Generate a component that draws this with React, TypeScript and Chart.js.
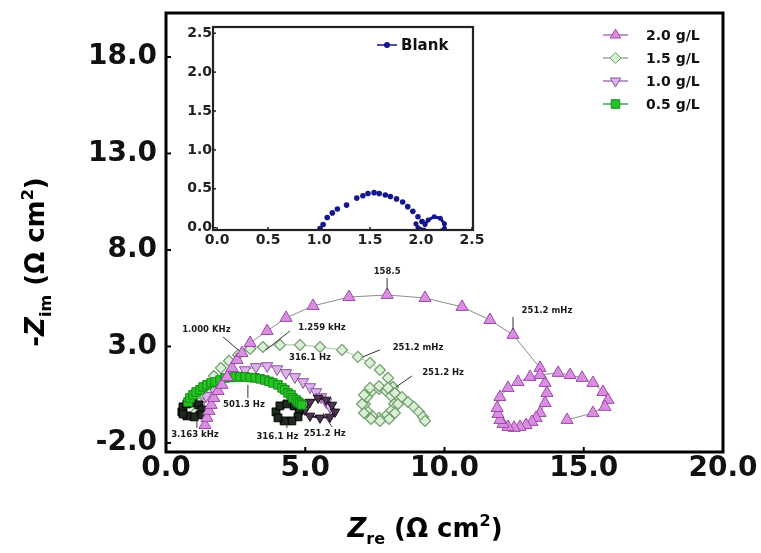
import React, { useEffect, useRef } from 'react';
import { Chart, registerables } from 'chart.js';
import { drawPoint } from 'chart.js/helpers';

Chart.register(...registerables);

// ---------- ticks ----------
const mainXTicks = [0, 5, 10, 15, 20];
const mainYTicks = [-2, 3, 8, 13, 18];
const insetXTicks = [0, 0.5, 1.0, 1.5, 2.0, 2.5];
const insetYTicks = [0, 0.5, 1.0, 1.5, 2.0, 2.5];

// ---------- series ----------
const seriesLabels = ['2.0 g/L', '1.5 g/L', '1.0 g/L', '0.5 g/L'];
const insetLabel = 'Blank';

// 2.0 g/L (triangles)
const zre20 = [1.40, 1.47, 1.54, 1.62, 1.72, 1.87, 2.01, 2.19, 2.37, 2.55, 2.73, 3.02, 3.63, 4.31, 5.28, 6.57, 7.94, 9.30, 10.63, 11.63, 12.46, 13.43,
  13.61, 13.68, 13.61, 13.43, 13.29, 13.14, 12.93, 12.71, 12.50, 12.28, 12.10, 11.99, 11.92, 11.89, 11.99, 12.28, 12.64, 13.07, 13.43,
  14.08, 14.51, 14.94, 15.33, 15.69, 15.87, 15.76, 15.33, 14.40];
const zim20 = [-1.07, -0.70, -0.34, -0.03, 0.33, 0.69, 1.01, 1.42, 1.89, 2.30, 2.66, 3.18, 3.80, 4.48, 5.10, 5.56, 5.67, 5.51, 5.05, 4.37, 3.60, 1.89,
  1.11, 0.59, 0.07, -0.45, -0.70, -0.91, -1.07, -1.17, -1.22, -1.17, -1.02, -0.81, -0.50, -0.19, 0.38, 0.85, 1.16, 1.42, 1.52,
  1.63, 1.52, 1.37, 1.11, 0.64, 0.23, -0.13, -0.45, -0.81];

// 1.5 g/L (diamonds)
const zre15 = [1.08, 1.18, 1.33, 1.51, 1.72, 1.97, 2.26, 2.59, 3.02, 3.48, 4.09, 4.81, 5.53, 6.32, 6.89, 7.32, 7.68, 7.97, 8.15,
  8.19, 8.08, 7.90, 7.65, 7.40, 7.22, 7.14, 7.22, 7.40, 7.65, 7.90, 8.08,
  8.33, 8.22, 8.01, 7.68, 7.36, 7.11, 7.04, 7.11, 7.32, 7.65, 7.97, 8.22,
  8.47, 8.69, 8.90, 9.08, 9.23, 9.30];
const zim15 = [-0.39, 0.07, 0.54, 1.01, 1.47, 1.89, 2.25, 2.56, 2.87, 2.97, 3.08, 3.08, 2.97, 2.82, 2.46, 2.15, 1.78, 1.37, 0.90,
  0.02, -0.34, -0.60, -0.70, -0.60, -0.34, 0.02, 0.38, 0.69, 0.80, 0.69, 0.44,
  0.02, -0.45, -0.76, -0.86, -0.76, -0.45, 0.02, 0.49, 0.85, 0.95, 0.85, 0.59,
  0.38, 0.12, -0.13, -0.39, -0.65, -0.86];

// 1.0 g/L (inverted triangles)
const zre10 = [1.22, 1.44, 1.69, 2.01, 2.41, 2.84, 3.23, 3.63, 3.99, 4.31, 4.63, 4.92, 5.17, 5.39, 5.57, 5.75, 5.89];
const zim10 = [-0.03, 0.44, 0.85, 1.21, 1.52, 1.78, 1.94, 1.99, 1.83, 1.63, 1.42, 1.16, 0.90, 0.64, 0.38, 0.12, -0.13];
const zre10Tail = [4.99, 5.17, 5.46, 5.75, 5.96, 6.07, 5.89, 5.53, 5.17];
const zim10Tail = [-0.29, 0.12, 0.33, 0.23, -0.03, -0.39, -0.65, -0.70, -0.60];

// 0.5 g/L (squares)
const zre05 = [0.79, 0.86, 0.97, 1.08, 1.22, 1.33, 1.47, 1.62, 1.76, 1.94, 2.12, 2.30, 2.48, 2.66, 2.84, 3.02, 3.20, 3.38, 3.55, 3.70, 3.84, 4.02, 4.17, 4.27, 4.38, 4.49, 4.56, 4.67, 4.74, 4.81, 4.88];
const zim05 = [0.12, 0.33, 0.49, 0.64, 0.75, 0.90, 1.01, 1.11, 1.16, 1.26, 1.37, 1.39, 1.42, 1.42, 1.42, 1.39, 1.37, 1.32, 1.26, 1.19, 1.11, 1.01, 0.85, 0.75, 0.59, 0.49, 0.33, 0.23, 0.12, 0.05, -0.03];
const zre05Head = [0.57, 0.61, 0.75, 0.97, 1.18, 1.29, 1.22, 1.01, 0.75, 0.61];
const zim05Head = [-0.39, -0.13, 0.02, 0.07, -0.03, -0.29, -0.55, -0.65, -0.60, -0.50];
const zre05Tail = [3.95, 4.09, 4.34, 4.60, 4.78, 4.74, 4.52, 4.24, 4.02];
const zim05Tail = [-0.39, -0.08, 0.02, -0.08, -0.34, -0.65, -0.86, -0.86, -0.70];

// Blank (inset)
const zreBlank = [1.01, 1.04, 1.08, 1.13, 1.18, 1.27, 1.37, 1.43, 1.48, 1.54, 1.59, 1.65, 1.70, 1.76, 1.82, 1.87, 1.92, 1.97, 2.01];
const zimBlank = [-0.01, 0.04, 0.13, 0.19, 0.24, 0.29, 0.38, 0.41, 0.44, 0.45, 0.44, 0.42, 0.40, 0.37, 0.33, 0.27, 0.21, 0.14, 0.08];
const zreBlankLoop = [2.01, 2.04, 2.07, 2.13, 2.19, 2.23, 2.23, 2.17, 2.09, 2.03, 1.97, 1.95];
const zimBlankLoop = [0.08, 0.04, 0.10, 0.14, 0.12, 0.05, -0.01, -0.05, -0.05, -0.03, 0.00, 0.05];

// frequency annotations (text, anchor in data units, optional leader line)
const freqTexts = ['158.5', '251.2 mHz', '1.000 KHz', '1.259 kHz', '316.1 Hz', '251.2 mHz', '251.2 Hz', '501.3 Hz', '3.163 kHz', '316.1 Hz', '251.2 Hz'];
const freqX = [7.94, 13.68, 1.45, 5.60, 5.17, 9.05, 9.95, 2.80, 1.04, 4.00, 5.70];
const freqY = [6.86, 4.84, 3.85, 3.96, 2.40, 2.92, 1.63, -0.03, -1.59, -1.69, -1.53];
const freqLeaders: (number[] | null)[] = [
  [7.94, 6.55, 7.94, 5.93],
  [12.46, 4.53, 12.46, 3.85],
  [2.05, 3.49, 2.59, 2.82],
  [4.45, 3.80, 3.59, 2.82],
  null,
  [7.68, 2.82, 7.07, 2.46],
  [8.83, 1.47, 8.26, 0.90],
  [2.94, 1.01, 2.94, 0.33],
  [1.11, -1.22, 1.11, -0.70],
  [4.34, -1.22, 4.34, -0.81],
  [5.96, -1.17, 5.64, -0.45],
];

const toPoints = (xs: number[], ys: number[]) => xs.map((x, i) => ({ x, y: ys[i] }));

const FAMILY = '"DejaVu Sans", "Liberation Sans", Arial, sans-serif';

type Part = { t: string; it?: boolean; sub?: boolean; sup?: boolean };
function drawRich(ctx: CanvasRenderingContext2D, parts: Part[], cx: number, cy: number, size: number) {
  const fontFor = (p: Part) => `${p.it ? 'italic ' : ''}bold ${p.sub || p.sup ? Math.round(size * 0.62) : size}px ${FAMILY}`;
  let total = 0;
  const widths = parts.map((p) => {
    ctx.font = fontFor(p);
    const w = ctx.measureText(p.t).width;
    total += w;
    return w;
  });
  let x = cx - total / 2;
  const base = cy + size * 0.36;
  ctx.textAlign = 'left';
  ctx.textBaseline = 'alphabetic';
  parts.forEach((p, i) => {
    ctx.font = fontFor(p);
    const dy = p.sub ? size * 0.24 : p.sup ? -size * 0.42 : 0;
    ctx.fillText(p.t, x, base + dy);
    x += widths[i];
  });
}

const whiteBg = {
  id: 'whiteBg',
  beforeDraw(chart: any) {
    const { ctx, width, height } = chart;
    ctx.save();
    ctx.fillStyle = '#ffffff';
    ctx.fillRect(0, 0, width, height);
    ctx.restore();
  },
};

const mainDecor = {
  id: 'mainDecor',
  afterDatasetsDraw(chart: any) {
    const { ctx, chartArea: a, scales } = chart;
    const xs = scales.x;
    const ys = scales.y;
    ctx.save();
    // leaders + labels
    ctx.strokeStyle = '#333';
    ctx.lineWidth = 1;
    freqLeaders.forEach((l) => {
      if (!l) return;
      ctx.beginPath();
      ctx.moveTo(xs.getPixelForValue(l[0]), ys.getPixelForValue(l[1]));
      ctx.lineTo(xs.getPixelForValue(l[2]), ys.getPixelForValue(l[3]));
      ctx.stroke();
    });
    ctx.fillStyle = '#1a1a1a';
    ctx.font = `bold 8.5px ${FAMILY}`;
    ctx.textAlign = 'center';
    ctx.textBaseline = 'middle';
    freqTexts.forEach((t, i) => {
      ctx.fillText(t, xs.getPixelForValue(freqX[i]), ys.getPixelForValue(freqY[i]));
    });
    // frame
    ctx.strokeStyle = '#000';
    ctx.lineWidth = 3;
    ctx.strokeRect(a.left, a.top, a.right - a.left, a.bottom - a.top);
    // inner ticks
    ctx.lineWidth = 2;
    mainXTicks.forEach((v) => {
      const px = xs.getPixelForValue(v);
      ctx.beginPath();
      ctx.moveTo(px, a.bottom);
      ctx.lineTo(px, a.bottom - 5);
      ctx.stroke();
    });
    mainYTicks.forEach((v) => {
      const py = ys.getPixelForValue(v);
      ctx.beginPath();
      ctx.moveTo(a.left, py);
      ctx.lineTo(a.left + 5, py);
      ctx.stroke();
    });
    // legend
    const ds = chart.data.datasets;
    for (let i = 0; i < 4; i++) {
      const d = ds[i];
      const ly = a.top + 22 + i * 23;
      const lx = a.right - 120;
      ctx.strokeStyle = d.pointBorderColor;
      ctx.lineWidth = 1.2;
      ctx.beginPath();
      ctx.moveTo(lx, ly);
      ctx.lineTo(lx + 25, ly);
      ctx.stroke();
      ctx.fillStyle = d.pointBackgroundColor;
      ctx.strokeStyle = d.pointBorderColor;
      ctx.lineWidth = 1;
      drawPoint(ctx, { pointStyle: d.pointStyle, radius: Math.min(d.pointRadius, 6), rotation: d.pointRotation || 0, borderWidth: 1 }, lx + 12.5, ly);
      ctx.fillStyle = '#111';
      ctx.font = `bold 14px ${FAMILY}`;
      ctx.textAlign = 'left';
      ctx.textBaseline = 'middle';
      ctx.fillText(d.label, lx + 43, ly + 1);
    }
    // axis titles
    ctx.fillStyle = '#000';
    drawRich(ctx, [{ t: 'Z', it: true }, { t: 're', sub: true }, { t: ' (Ω cm' }, { t: '2', sup: true }, { t: ')' }], 425, 528, 26);
    ctx.translate(35, 262);
    ctx.rotate(-Math.PI / 2);
    drawRich(ctx, [{ t: '-' }, { t: 'Z', it: true }, { t: 'im', sub: true }, { t: ' (Ω cm' }, { t: '2', sup: true }, { t: ')' }], 0, 0, 26);
    ctx.restore();
  },
};

const insetDecor = {
  id: 'insetDecor',
  afterDatasetsDraw(chart: any) {
    const { ctx, chartArea: a, scales } = chart;
    const xs = scales.x;
    const ys = scales.y;
    ctx.save();
    ctx.strokeStyle = '#222';
    ctx.lineWidth = 2.2;
    ctx.strokeRect(a.left, a.top, a.right - a.left, a.bottom - a.top);
    ctx.lineWidth = 1.5;
    insetXTicks.forEach((v) => {
      const px = xs.getPixelForValue(v);
      ctx.beginPath();
      ctx.moveTo(px, a.bottom);
      ctx.lineTo(px, a.bottom - 3);
      ctx.stroke();
    });
    insetYTicks.forEach((v) => {
      const py = ys.getPixelForValue(v);
      ctx.beginPath();
      ctx.moveTo(a.left, py);
      ctx.lineTo(a.left + 3, py);
      ctx.stroke();
    });
    // legend
    const d = chart.data.datasets[0];
    const lx = a.left + 164;
    const ly = a.top + 18;
    ctx.strokeStyle = d.pointBackgroundColor;
    ctx.lineWidth = 1.5;
    ctx.beginPath();
    ctx.moveTo(lx, ly);
    ctx.lineTo(lx + 20, ly);
    ctx.stroke();
    ctx.fillStyle = d.pointBackgroundColor;
    drawPoint(ctx, { pointStyle: 'circle', radius: 3, rotation: 0, borderWidth: 0 }, lx + 10, ly);
    ctx.fillStyle = '#111';
    ctx.font = `bold 15px ${FAMILY}`;
    ctx.textAlign = 'left';
    ctx.textBaseline = 'middle';
    ctx.fillText(insetLabel, lx + 24, ly + 1);
    ctx.restore();
  },
};

export default function App() {
  const mainRef = useRef<HTMLCanvasElement>(null);
  const insetRef = useRef<HTMLCanvasElement>(null);

  useEffect(() => {
    const fmt = (v: any) => Number(v).toFixed(1);
    const main = new Chart(mainRef.current as HTMLCanvasElement, {
      type: 'scatter',
      data: {
        datasets: [
          {
            label: seriesLabels[0], data: toPoints(zre20, zim20), showLine: true, borderColor: '#8d8d8d', borderWidth: 1,
            pointStyle: 'triangle', pointRadius: 7, pointBackgroundColor: '#d88fe0', pointBorderColor: '#a048ac', pointBorderWidth: 1, order: 0,
          },
          {
            label: seriesLabels[1], data: toPoints(zre15, zim15), showLine: true, borderColor: '#a9c4a9', borderWidth: 1,
            pointStyle: 'rectRot', pointRadius: 5.5, pointBackgroundColor: '#dcefd6', pointBorderColor: '#6e9e6e', pointBorderWidth: 1.2, order: 5,
          },
          {
            label: seriesLabels[2], data: toPoints(zre10, zim10), showLine: true, borderColor: '#b490c0', borderWidth: 1,
            pointStyle: 'triangle', pointRotation: 180, pointRadius: 6.5, pointBackgroundColor: '#dcb2ea', pointBorderColor: '#8c52a0', pointBorderWidth: 1, order: 4,
          },
          {
            label: seriesLabels[3], data: toPoints(zre05, zim05), showLine: true, borderColor: '#1f9f1f', borderWidth: 1,
            pointStyle: 'rect', pointRadius: 6, pointBackgroundColor: '#25c425', pointBorderColor: '#168a16', pointBorderWidth: 1, order: 1,
          },
          {
            label: 'tail10', data: toPoints(zre10Tail, zim10Tail), showLine: true, borderColor: '#2a1a2a', borderWidth: 2,
            pointStyle: 'triangle', pointRotation: 180, pointRadius: 5.5, pointBackgroundColor: '#4e3454', pointBorderColor: '#1a0f1a', pointBorderWidth: 1, order: 3,
          },
          {
            label: 'head05', data: toPoints(zre05Head, zim05Head), showLine: true, borderColor: '#111', borderWidth: 2,
            pointStyle: 'rect', pointRadius: 5.5, pointBackgroundColor: '#1d2a1d', pointBorderColor: '#000', pointBorderWidth: 1, order: 2,
          },
          {
            label: 'tail05', data: toPoints(zre05Tail, zim05Tail), showLine: true, borderColor: '#111', borderWidth: 2,
            pointStyle: 'rect', pointRadius: 5.5, pointBackgroundColor: '#1d2a1d', pointBorderColor: '#000', pointBorderWidth: 1, order: 2,
          },
        ],
      },
      options: {
        animation: false,
        responsive: false,
        events: [],
        layout: { padding: { top: 13, right: 38, left: 0, bottom: 0 } },
        plugins: { legend: { display: false }, tooltip: { enabled: false } },
        scales: {
          x: {
            type: 'linear', min: 0, max: 20,
            afterBuildTicks: (s: any) => { s.ticks = mainXTicks.map((v) => ({ value: v })); },
            afterFit: (s: any) => { s.height = 101; s.paddingLeft = 0; s.paddingRight = 0; },
            grid: { display: false, drawTicks: false },
            border: { display: false },
            ticks: { padding: 0, color: '#111', autoSkip: false, maxRotation: 0, font: { family: FAMILY, weight: 'bold', size: 28 }, callback: fmt },
          },
          y: {
            type: 'linear', min: -2.47, max: 20.28,
            afterBuildTicks: (s: any) => { s.ticks = mainYTicks.map((v) => ({ value: v })); },
            afterFit: (s: any) => { s.width = 166; s.paddingTop = 0; s.paddingBottom = 0; },
            grid: { display: false, drawTicks: false },
            border: { display: false },
            ticks: { padding: 9, color: '#111', autoSkip: false, font: { family: FAMILY, weight: 'bold', size: 28 }, callback: fmt },
          },
        },
      },
      plugins: [whiteBg, mainDecor],
    } as any);

    const inset = new Chart(insetRef.current as HTMLCanvasElement, {
      type: 'scatter',
      data: {
        datasets: [
          {
            label: insetLabel, data: toPoints(zreBlank, zimBlank), showLine: false,
            pointStyle: 'circle', pointRadius: 2.8, pointBackgroundColor: '#15158e', pointBorderColor: '#15158e', pointBorderWidth: 0,
          },
          {
            label: 'loop', data: toPoints(zreBlankLoop, zimBlankLoop), showLine: true, borderColor: '#15158e', borderWidth: 3,
            pointStyle: 'circle', pointRadius: 2.5, pointBackgroundColor: '#15158e', pointBorderColor: '#15158e', pointBorderWidth: 0,
          },
        ],
      },
      options: {
        animation: false,
        responsive: false,
        events: [],
        layout: { padding: { top: 10, right: 17, left: 0, bottom: 0 } },
        plugins: { legend: { display: false }, tooltip: { enabled: false } },
        scales: {
          x: {
            type: 'linear', min: -0.04, max: 2.51,
            afterBuildTicks: (s: any) => { s.ticks = insetXTicks.map((v) => ({ value: v })); },
            afterFit: (s: any) => { s.height = 27; s.paddingLeft = 0; s.paddingRight = 0; },
            grid: { display: false, drawTicks: false },
            border: { display: false },
            ticks: { padding: 2, color: '#222', autoSkip: false, maxRotation: 0, font: { family: FAMILY, weight: 'bold', size: 14 }, callback: fmt },
          },
          y: {
            type: 'linear', min: -0.03, max: 2.58,
            afterBuildTicks: (s: any) => { s.ticks = insetYTicks.map((v) => ({ value: v })); },
            afterFit: (s: any) => { s.width = 41; s.paddingTop = 0; s.paddingBottom = 0; },
            grid: { display: false, drawTicks: false },
            border: { display: false },
            ticks: { padding: 1, color: '#222', autoSkip: false, font: { family: FAMILY, weight: 'bold', size: 14 }, callback: fmt },
          },
        },
      },
      plugins: [whiteBg, insetDecor],
    } as any);

    return () => {
      main.destroy();
      inset.destroy();
    };
  }, []);

  return (
    <div style={{ position: 'absolute', left: 0, top: 0, width: 761, height: 553, background: '#fff' }}>
      <canvas ref={mainRef} width={761} height={553} style={{ position: 'absolute', left: 0, top: 0, width: 761, height: 553 }} />
      <canvas ref={insetRef} width={318} height={240} style={{ position: 'absolute', left: 172, top: 17, width: 318, height: 240 }} />
    </div>
  );
}
